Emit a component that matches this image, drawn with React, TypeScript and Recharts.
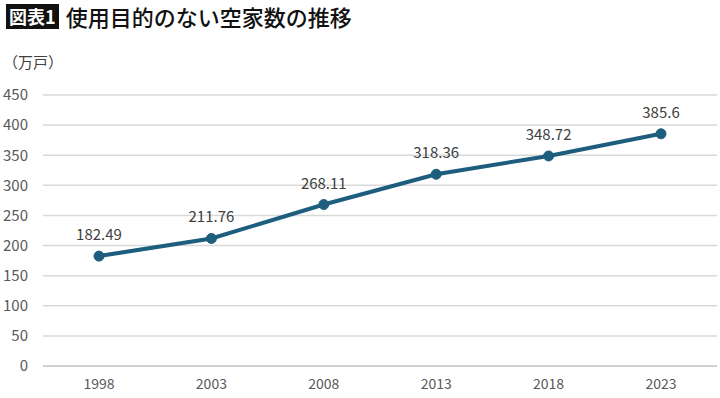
import { LineChart, Line, XAxis, YAxis, CartesianGrid, LabelList } from 'recharts';

const years = ['1998', '2003', '2008', '2013', '2018', '2023'];
const vacantHomes = [182.49, 211.76, 268.11, 318.36, 348.72, 385.6];
const yTicks = [0, 50, 100, 150, 200, 250, 300, 350, 400, 450];

const FONT = '"Noto Sans CJK JP", "Noto Sans", sans-serif';
const LINE_COLOR = '#1d5d7d';

export default function App() {
    const data = years.map((year, i) => ({ year, value: vacantHomes[i] }));

    return (
        <div style={{ position: 'absolute', left: 0, top: 0, width: 720, height: 398, background: '#fff', fontFamily: FONT }}>
            <div style={{ position: 'absolute', left: 6, top: 4, display: 'flex', alignItems: 'center' }}>
                <span style={{ background: '#111', color: '#fff', fontWeight: 700, fontSize: 18, lineHeight: '25px', padding: '0 3px' }}>図表1</span>
                <span style={{ marginLeft: 7, color: '#111', fontWeight: 500, fontSize: 22, lineHeight: '25px' }}>使用目的のない空家数の推移</span>
            </div>
            <div style={{ position: 'absolute', left: 3, top: 51, fontSize: 15, color: '#404040', lineHeight: '22px' }}>（万戸）</div>
            <div style={{ position: 'absolute', left: 0, top: 0 }}>
                <LineChart width={720} height={398} data={data} margin={{ top: 95, right: 3, bottom: 0, left: 8 }}>
                    <CartesianGrid vertical={false} stroke="#d9d9d9" strokeWidth={1.5} />
                    <XAxis
                        dataKey="year"
                        axisLine={{ stroke: '#d0d0d0', strokeWidth: 2 }}
                        tickLine={false}
                        tickSize={0}
                        tickMargin={13}
                        padding={{ left: 56, right: 56 }}
                        tick={{ fill: '#595959', fontSize: 14, fontFamily: FONT }}
                        height={32}
                    />
                    <YAxis
                        domain={[0, 450]}
                        ticks={yTicks}
                        axisLine={false}
                        tickLine={false}
                        tickSize={0}
                        tickMargin={15}
                        width={35}
                        tick={{ fill: '#595959', fontSize: 15, fontFamily: FONT }}
                    />
                    <Line
                        type="linear"
                        dataKey="value"
                        stroke={LINE_COLOR}
                        strokeWidth={4}
                        dot={{ r: 5, fill: LINE_COLOR, stroke: LINE_COLOR, strokeWidth: 1 }}
                        isAnimationActive={false}
                    >
                        <LabelList dataKey="value" position="top" offset={16} fill="#404040" fontSize={15} fontFamily={FONT} />
                    </Line>
                </LineChart>
            </div>
        </div>
    );
}
